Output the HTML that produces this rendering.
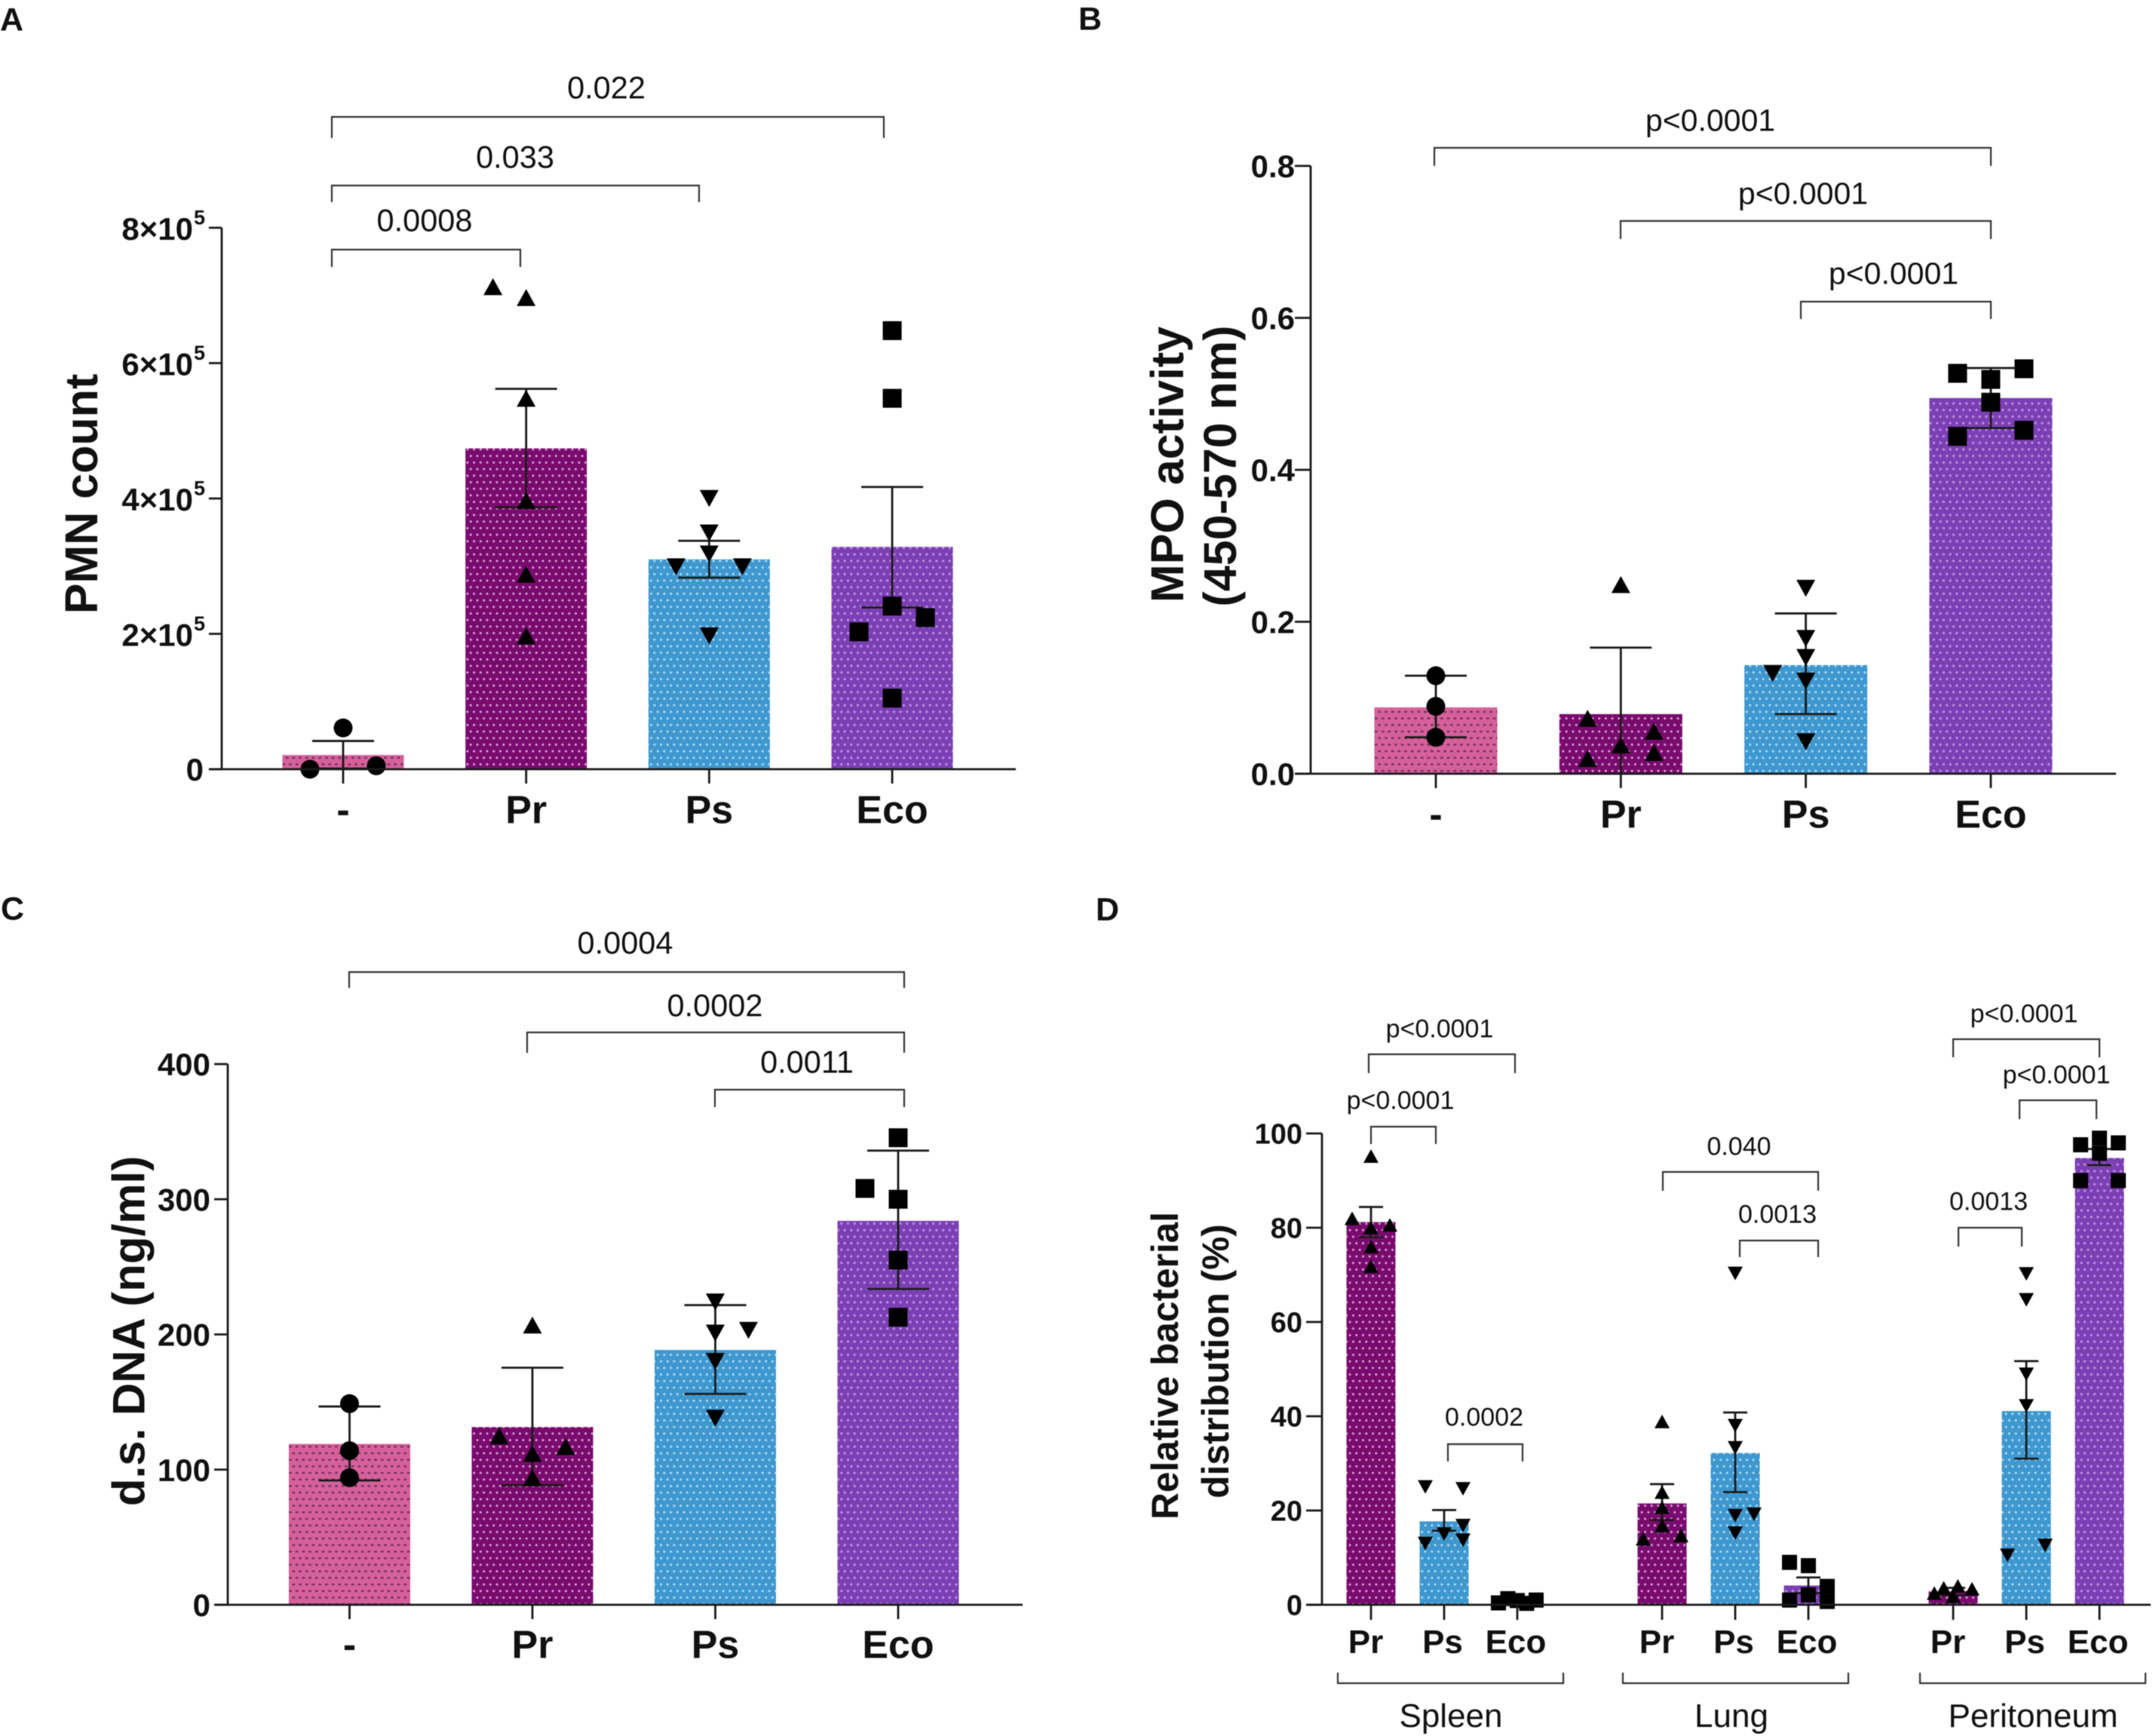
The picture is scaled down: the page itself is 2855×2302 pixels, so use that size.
<!DOCTYPE html>
<html lang="en">
<head>
<meta charset="utf-8">
<title>Bacterial infection readouts</title>
<style>
html,body{margin:0;padding:0;background:#fff;}
body{width:2855px;height:2302px;overflow:hidden;}
svg{display:block;font-family:"Liberation Sans",Arial,sans-serif;filter:blur(0.6px);}
</style>
</head>
<body>
<svg id="figure" xmlns="http://www.w3.org/2000/svg" width="2855" height="2302" viewBox="0 0 2855 2302">
  <defs>
    <pattern id="dots-pink" width="8.7" height="17.4" patternUnits="userSpaceOnUse">
      <rect width="8.7" height="17.4" fill="#d5609a"/>
      <ellipse cx="2.2" cy="4.3" rx="2" ry="1.3" fill="#70305f"/>
      <ellipse cx="6.55" cy="13" rx="2" ry="1.3" fill="#70305f"/>
    </pattern>
    <pattern id="dots-magenta" width="8.7" height="17.4" patternUnits="userSpaceOnUse">
      <rect width="8.7" height="17.4" fill="#7a0b6e"/>
      <circle cx="2.2" cy="4.3" r="1.5" fill="#d9a8d8"/>
      <circle cx="6.55" cy="13" r="1.5" fill="#d9a8d8"/>
    </pattern>
    <pattern id="dots-blue" width="8.7" height="17.4" patternUnits="userSpaceOnUse">
      <rect width="8.7" height="17.4" fill="#3e97cf"/>
      <circle cx="2.2" cy="4.3" r="1.6" fill="#a9d8f0"/>
      <circle cx="6.55" cy="13" r="1.6" fill="#a9d8f0"/>
    </pattern>
    <pattern id="dots-violet" width="8.7" height="17.4" patternUnits="userSpaceOnUse">
      <rect width="8.7" height="17.4" fill="#7b3fb4"/>
      <circle cx="2.2" cy="4.3" r="1.7" fill="#b98ce0"/>
      <circle cx="6.55" cy="13" r="1.7" fill="#b98ce0"/>
    </pattern>
  </defs>
</svg>
<script>
// ---------- Panel A data ----------
var aCategories = ['-', 'Pr', 'Ps', 'Eco'];
var aBarValues = [21000, 474000, 310000, 328500];
var aErrUpper = [41700, 562000, 337500, 417000];
var aErrLower = [1000, 387000, 283000, 239000];
var aPointValues = [
  [61000, 0, 5000],
  [713000, 697000, 548000, 397000, 288000, 197000],
  [400000, 349000, 318000, 299000, 299000, 197000],
  [648000, 548000, 241000, 224000, 203000, 105000]
];
var aSwarmSlots = [
  [0, -1, 1],
  [-1, 0, 0, 0, 0, 0],
  [0, 0, 0, -1, 1, 0],
  [0, 0, 0, 1, -1, 0]
];
var aTicks = [0, 200000, 400000, 600000, 800000];

// ---------- Panel B data ----------
var bCategories = ['-', 'Pr', 'Ps', 'Eco'];
var bBarValues = [0.0873, 0.0785, 0.143, 0.4945];
var bErrUpper = [0.129, 0.166, 0.211, 0.534];
var bErrLower = [0.048, 0.0, 0.0785, 0.455];
var bPointValues = [
  [0.129, 0.0887, 0.048],
  [0.249, 0.073, 0.056, 0.038, 0.028, 0.02],
  [0.244, 0.178, 0.153, 0.132, 0.122, 0.042],
  [0.527, 0.533, 0.519, 0.489, 0.452, 0.444]
];
var bSwarmSlots = [
  [0, 0, 0],
  [0, -1, 1, 0, 1, -1],
  [0, 0, 0, -1, 0, 0],
  [-1, 1, 0, 0, 1, -1]
];
var bTicks = [0, 0.2, 0.4, 0.6, 0.8];
var bTickLabels = ['0.0', '0.2', '0.4', '0.6', '0.8'];

// ---------- Panel C data ----------
var cCategories = ['-', 'Pr', 'Ps', 'Eco'];
var cBarValues = [119, 131.5, 188.5, 284];
var cErrUpper = [146.7, 175.4, 221.7, 336];
var cErrLower = [92, 88.5, 156, 233.6];
var cPointValues = [
  [148.8, 114, 94],
  [207, 125, 117, 112, 94],
  [224, 201, 203, 180, 138],
  [345.5, 308, 300, 255, 212.7]
];
var cSwarmSlots = [
  [0, 0, 0],
  [0, -1, 1, 0, 0],
  [0, 0, 1, 0, 0],
  [0, -1, 0, 0, 0]
];
var cTicks = [0, 100, 200, 300, 400];

// ---------- Panel D data ----------
var dGroups = ['Spleen', 'Lung', 'Peritoneum'];
var dCategories = ['Pr', 'Ps', 'Eco'];
var dBarValues = [
  [81.2, 17.7, 0.9],
  [21.5, 32.2, 4.1],
  [2.9, 41.1, 94.8]
];
var dErrUpper = [
  [84.4, 20.1, 1.3],
  [25.6, 40.8, 5.8],
  [3.6, 51.7, 96.7]
];
var dErrLower = [
  [78, 15.7, 0.5],
  [18, 23.9, 2.5],
  [2, 31, 93.3]
];
var dPointValues = [
  [[95.2, 82, 80.6, 80, 76, 71.8], [25, 24.6, 16.8, 15, 13, 13.7], [0.4, 1.3, 0.9, 0.3, 1]],
  [[38.9, 23.9, 20.7, 16.8, 14, 14.7], [70.3, 38, 33.3, 18.9, 19.2, 15.2], [9, 8.3, 3.9, 2.1, 1, 0.7]],
  [[2.5, 3.6, 4, 3.4, 1.8], [70.2, 64.7, 48.9, 42.2, 10.5, 12.6], [99, 97.6, 98, 95.8, 90, 90]]
];
var dSwarmSlots = [
  [[0, -1, 1, 0, 0, 0], [-1, 1, 1, 0, -1, 1], [-1, -0.5, 0, 0.5, 1]],
  [[0, 0, 0, 0, -1, 1], [0, 0, 0, 0, 1, 0], [-1, 0, 1, 0, -1, 1]],
  [[-1, -0.5, 0.25, 1, 0], [0, 0, 0, 0, -1, 1], [0, -1, 1, 0, -1, 1]]
];
var dTicks = [0, 20, 40, 60, 80, 100];

// ---------- Shared styling ----------
var fills = ['url(#dots-pink)', 'url(#dots-magenta)', 'url(#dots-blue)', 'url(#dots-violet)'];
var shapes = ['circle', 'up', 'down', 'square'];
var INK = '#1a1a1a';
var NS = 'http://www.w3.org/2000/svg';
var root = document.getElementById('figure');

function mk(parent, tag, props) {
  var el = document.createElementNS(NS, tag);
  for (var k in props) { el.setAttribute(k, props[k]); }
  parent.appendChild(el);
  return el;
}
function group(parent) {
  return mk(parent, 'g', {});
}
function ln(parent, x1, y1, x2, y2, w, color) {
  return mk(parent, 'line', { x1: x1, y1: y1, x2: x2, y2: y2, stroke: color || INK, 'stroke-width': w });
}
function label(parent, str, x, yCenter, size, weight, anchor) {
  var t = mk(parent, 'text', {
    x: x, y: yCenter + size * 0.36, 'font-size': size, 'font-weight': weight,
    'text-anchor': anchor || 'middle', fill: '#111'
  });
  t.textContent = str;
  return t;
}
function vertLabel(parent, str, x, yCenter, size) {
  var t = mk(parent, 'text', {
    x: 0, y: 0, 'font-size': size, 'font-weight': 'bold', 'text-anchor': 'middle', fill: '#111',
    transform: 'translate(' + (x + size * 0.36) + ',' + yCenter + ') rotate(-90)'
  });
  t.textContent = str;
  return t;
}
function marker(parent, shape, cx, cy, s) {
  var h = s / 2;
  if (shape === 'circle') {
    return mk(parent, 'circle', { cx: cx, cy: cy, r: h, fill: '#000' });
  }
  if (shape === 'square') {
    return mk(parent, 'rect', { x: cx - h, y: cy - h, width: s, height: s, fill: '#000' });
  }
  var dir = shape === 'up' ? 1 : -1;
  var pts = (cx - h) + ',' + (cy + dir * h * 0.9) + ' ' + (cx + h) + ',' + (cy + dir * h * 0.9) + ' ' + cx + ',' + (cy - dir * h * 0.9);
  return mk(parent, 'polygon', { points: pts, fill: '#000' });
}

function drawBracket(parent, text, xa, xb, y, legA, legB, tx, ty, size) {
  var g = group(parent);
  
  
  var p = mk(g, 'path', {
    d: 'M' + xa + ' ' + legA + 'V' + y + 'H' + xb + 'V' + legB,
    fill: 'none', stroke: '#333', 'stroke-width': 2.2
  });
  
  
  var t = label(g, text, tx, ty - 1.5, size, 'normal');
  
  
}

function drawBarGroup(g, x, yFn, cfg) {
  // cfg: value, upper, lower, points, slots, fill, shape, barW, capHalf, step, mSize
  var bar = mk(g, 'rect', {
    x: x - cfg.barW / 2, y: yFn(cfg.value), width: cfg.barW,
    height: yFn(0) - yFn(cfg.value), fill: cfg.fill
  });
  
  

  var stem = ln(g, x, yFn(cfg.upper), x, yFn(cfg.lower), 2.8);
  
  
  var capU = ln(g, x - cfg.capHalf, yFn(cfg.upper), x + cfg.capHalf, yFn(cfg.upper), 2.8);
  
  
  var capL = ln(g, x - cfg.capHalf, yFn(cfg.lower), x + cfg.capHalf, yFn(cfg.lower), 2.8);
  
  

  for (var i = 0; i < cfg.points.length; i++) {
    var m = marker(g, cfg.shape, x + cfg.slots[i] * cfg.step, yFn(cfg.points[i]), cfg.mSize);
    
    
  }
}

function drawAxes(g, ax) {
  // ax: xAxis, xEnd, tickLeft, ticks, yFn, labelFn
  var yLine = ln(g, ax.xAxis, ax.yFn(ax.ticks[ax.ticks.length - 1]), ax.xAxis, ax.yFn(0) + 1, 2.8);
  
  
  var xLine = ln(g, ax.tickLeft, ax.yFn(0), ax.xEnd, ax.yFn(0), 2.8);
  
  
  for (var i = 0; i < ax.ticks.length; i++) {
    var ty = ax.yFn(ax.ticks[i]);
    var tick = ln(g, ax.tickLeft, ty, ax.xAxis, ty, 2.8);
    
    
    ax.labelFn(g, i, ty);
  }
}

function plainTickLabels(labels, right, size) {
  return function (g, i, ty) {
    var t = label(g, labels[i], right, ty, size, 'bold', 'end');
    
    
  };
}

function drawSimplePanel(p) {
  var g = group(root);
  
  
  var pts = function (i) { return p.x0 + i * p.dx; };
  for (var i = 0; i < p.categories.length; i++) {
    drawBarGroup(g, pts(i), p.yFn, {
      value: p.bars[i], upper: p.upper[i], lower: p.lower[i],
      points: p.points[i], slots: p.slots[i],
      fill: fills[i], shape: shapes[i],
      barW: p.barW, capHalf: 41, step: 44, mSize: 25
    });
  }
  drawAxes(g, { xAxis: p.xAxis, xEnd: p.xEnd, tickLeft: p.tickLeft, ticks: p.ticks, yFn: p.yFn, labelFn: p.tickLabelFn });
  for (var j = 0; j < p.categories.length; j++) {
    var tk = ln(g, pts(j), p.yFn(0), pts(j), p.yFn(0) + 19, 2.8);
    
    
    var xl = label(g, p.categories[j], pts(j), p.xLabelY, 52, 'bold');
    
    
  }
  return g;
}

// ---------- Panel A ----------
function yA(v) { return 1020 - v * (718 / 800000); }
var panelA = drawSimplePanel({
  name: 'panel-a-pmn-count',
  categories: aCategories, bars: aBarValues, upper: aErrUpper, lower: aErrLower,
  points: aPointValues, slots: aSwarmSlots,
  x0: 455, dx: 242.7, barW: 161, yFn: yA, xAxis: 294, xEnd: 1347, tickLeft: 277,
  ticks: aTicks, xLabelY: 1073,
  tickLabelFn: function (g, i, ty) {
    var v = aTicks[i];
    if (v === 0) {
      var z = label(g, '0', 270, ty, 42, 'bold', 'end');
      
      
      return;
    }
    var t = label(g, (v / 100000) + '\u00D710', 256, ty + 1, 42, 'bold', 'end');
    
    
    var e = label(g, '5', 257, ty - 14, 27, 'bold', 'start');
    
    
  }
});
var titleA = vertLabel(panelA, 'PMN count', 107, 655, 61);


drawBracket(panelA, '0.022', 440, 1172, 155, 183, 183, 804, 117, 41.5);
drawBracket(panelA, '0.033', 440, 927, 246, 268, 268, 683, 209, 41.5);
drawBracket(panelA, '0.0008', 440, 690, 331, 354, 354, 563, 293, 41.5);

// ---------- Panel B ----------
function yB(v) { return 1026 - v * (806 / 0.8); }
var panelB = drawSimplePanel({
  name: 'panel-b-mpo-activity',
  categories: bCategories, bars: bBarValues, upper: bErrUpper, lower: bErrLower,
  points: bPointValues, slots: bSwarmSlots,
  x0: 1904, dx: 245.3, barW: 163, yFn: yB, xAxis: 1738, xEnd: 2806, tickLeft: 1717,
  ticks: bTicks, xLabelY: 1079,
  tickLabelFn: plainTickLabels(bTickLabels, 1717, 42)
});
var titleB1 = vertLabel(panelB, 'MPO activity', 1547, 616, 61);


var titleB2 = vertLabel(panelB, '(450-570 nm)', 1617, 618, 61);


drawBracket(panelB, 'p<0.0001', 1902, 2640, 196, 220, 220, 2268, 160, 41);
drawBracket(panelB, 'p<0.0001', 2149, 2640, 293, 317, 317, 2391, 257, 41);
drawBracket(panelB, 'p<0.0001', 2388, 2640, 400, 423, 423, 2511, 363, 41);

// ---------- Panel C ----------
function yC(v) { return 2128 - v * (717 / 400); }
var cLabels = cTicks.map(String);
var panelC = drawSimplePanel({
  name: 'panel-c-dsdna',
  categories: cCategories, bars: cBarValues, upper: cErrUpper, lower: cErrLower,
  points: cPointValues, slots: cSwarmSlots,
  x0: 463.5, dx: 242.5, barW: 161, yFn: yC, xAxis: 302, xEnd: 1356, tickLeft: 284,
  ticks: cTicks, xLabelY: 2180,
  tickLabelFn: plainTickLabels(cLabels, 279, 42)
});
var titleC = vertLabel(panelC, 'd.s. DNA (ng/ml)', 170, 1765, 60);


drawBracket(panelC, '0.0004', 463, 1199, 1289, 1310, 1310, 829, 1251, 41.5);
drawBracket(panelC, '0.0002', 699, 1199, 1369, 1396, 1396, 948, 1334, 41.5);
drawBracket(panelC, '0.0011', 948, 1199, 1445, 1468, 1468, 1070, 1409, 41.5);

// ---------- Panel D ----------
function yD(v) { return 2128 - v * 6.25; }
function xD(g, i) { return 1818 + g * 386 + i * 97; }
var dLabels = dTicks.map(String);
var panelD = group(root);


for (var gi = 0; gi < dGroups.length; gi++) {
  for (var ci = 0; ci < dCategories.length; ci++) {
    drawBarGroup(panelD, xD(gi, ci), yD, {
      value: dBarValues[gi][ci], upper: dErrUpper[gi][ci], lower: dErrLower[gi][ci],
      points: dPointValues[gi][ci], slots: dSwarmSlots[gi][ci],
      fill: fills[ci + 1], shape: shapes[ci + 1],
      barW: 65, capHalf: 16, step: 25, mSize: 20
    });
  }
}
drawAxes(panelD, { xAxis: 1753, xEnd: 2852, tickLeft: 1732, ticks: dTicks, yFn: yD, labelFn: plainTickLabels(dLabels, 1727, 38) });
for (var g2 = 0; g2 < dGroups.length; g2++) {
  for (var c2 = 0; c2 < dCategories.length; c2++) {
    var dx = xD(g2, c2);
    var dTick = ln(panelD, dx, yD(0), dx, yD(0) + 20, 2.8);
    
    
    var dLab = label(panelD, dCategories[c2], dx + (c2 === 0 ? -7 : -2), 2176, 44, 'bold');
    
    
  }
  var left = 1774 + g2 * 386 - (g2 === 1 ? 8 : 0);
  var brk = mk(panelD, 'path', {
    d: 'M' + left + ' 2218V2232H' + (left + 299) + 'V2218',
    fill: 'none', stroke: '#333', 'stroke-width': 2.2
  });
  
  
  var gLab = label(panelD, dGroups[g2], left + 150 + (g2 === 1 ? -6 : 0), 2274, 44, 'normal');
  
  
}
var titleD1 = vertLabel(panelD, 'Relative bacterial', 1544, 1811, 49.6);


var titleD2 = vertLabel(panelD, 'distribution (%)', 1611, 1805, 49.6);


drawBracket(panelD, 'p<0.0001', 1815, 2009, 1398, 1423, 1423, 1909, 1365, 34);
drawBracket(panelD, 'p<0.0001', 1818, 1904, 1494, 1517, 1517, 1857, 1460, 34);
drawBracket(panelD, '0.0002', 1920, 2019, 1915, 1938, 1938, 1968, 1880, 34);
drawBracket(panelD, '0.040', 2205, 2411, 1554, 1579, 1579, 2306, 1521, 34);
drawBracket(panelD, '0.0013', 2307, 2411, 1645, 1667, 1667, 2357, 1611, 34);
drawBracket(panelD, 'p<0.0001', 2590, 2784, 1378, 1402, 1402, 2684, 1345, 34);
drawBracket(panelD, 'p<0.0001', 2678, 2780, 1459, 1484, 1484, 2727, 1426, 34);
drawBracket(panelD, '0.0013', 2597, 2681, 1628, 1653, 1653, 2637, 1594, 34);

// ---------- Panel letters ----------
var letterA = label(root, 'A', 0, 25, 43, 'bold', 'start');


var letterB = label(root, 'B', 1430, 24, 43, 'bold', 'start');


var letterC = label(root, 'C', 1, 1204, 43, 'bold', 'start');


var letterD = label(root, 'D', 1453, 1205, 43, 'bold', 'start');


</script>
</body>
</html>
